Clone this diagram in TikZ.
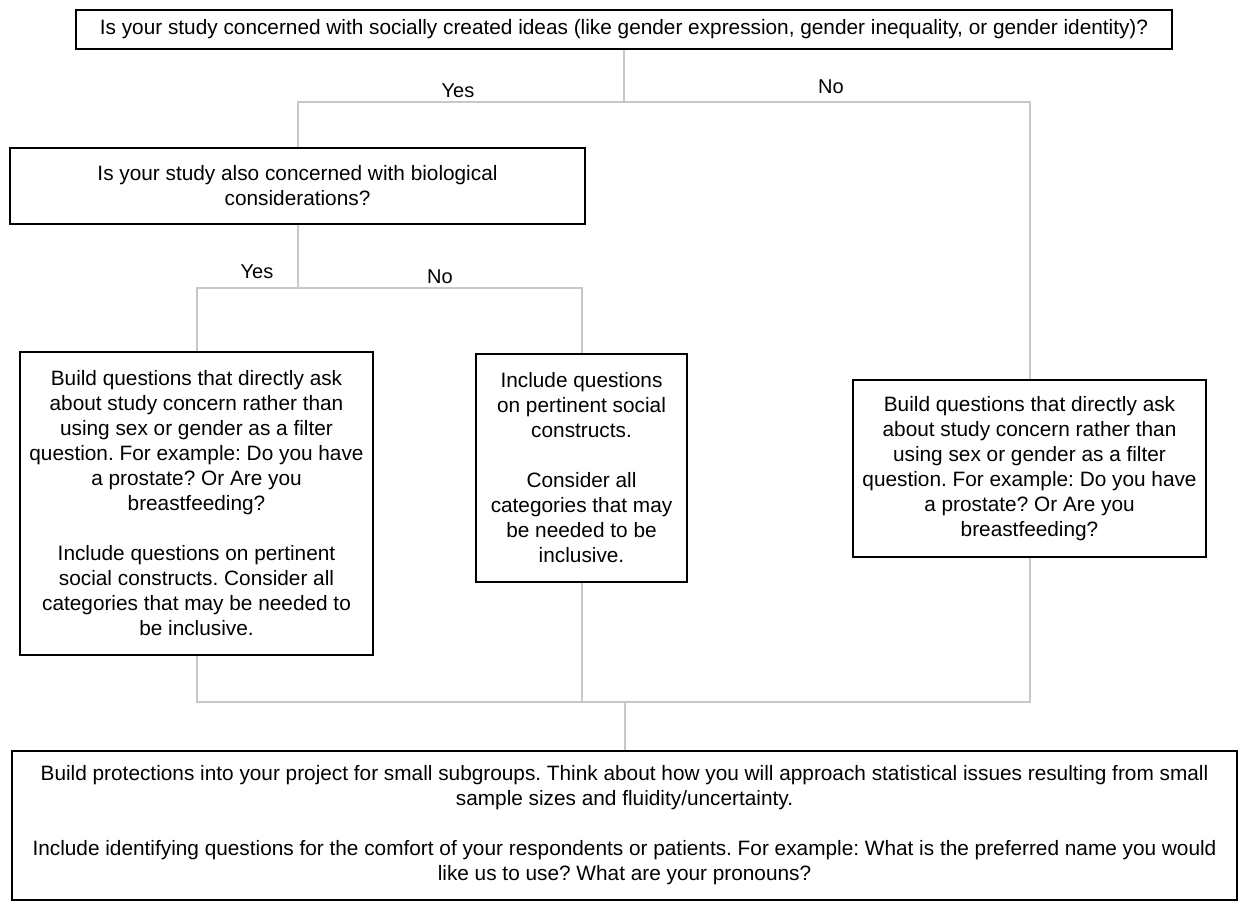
\documentclass[tikz,border=0pt]{standalone}
\usepackage{fontspec}
\setmainfont{Liberation Sans}
\frenchspacing
\definecolor{linegray}{HTML}{C8C8C8}
\newcommand{\boxfont}{\fontsize{20.8}{25}\selectfont}
\newcommand{\lblfont}{\fontsize{20}{23}\selectfont}
\tikzset{
  box/.style={draw=black, line width=2.2pt, align=center, inner sep=0pt, font=\boxfont},
  conn/.style={draw=linegray, line width=2pt},
  lbl/.style={font=\lblfont, anchor=base, inner sep=0pt}
}
\begin{document}
\begin{tikzpicture}[x=1pt,y=-1pt]
\useasboundingbox (0,0) rectangle (1238,902);
% junction levels
\coordinate (y1) at (0,102);
\coordinate (y2) at (0,288);
\coordinate (y3) at (0,702);
% nodes
\node[box, minimum width=1096pt, minimum height=39pt] (q1) at (624,29.5)
  {Is your study concerned with socially created ideas (like gender expression, gender inequality, or gender identity)?};
\node[box, minimum width=575pt, minimum height=76pt] (q2) at (297.5,186)
  {Is your study also concerned with biological\\considerations?};
\node[box, minimum width=353pt, minimum height=303pt] (a1) at (196.5,503.5)
  {Build questions that directly ask\\about study concern rather than\\using sex or gender as a filter\\question. For example: Do you have\\a prostate? Or Are you\\breastfeeding?\\[25pt]Include questions on pertinent\\social constructs. Consider all\\categories that may be needed to\\be inclusive.};
\node[box, minimum width=211pt, minimum height=228pt] (a2) at (581.5,468)
  {Include questions\\on pertinent social\\constructs.\\[25pt]Consider all\\categories that may\\be needed to be\\inclusive.};
\node[box, minimum width=353pt, minimum height=177pt] (a3) at (1029.5,468.5)
  {Build questions that directly ask\\about study concern rather than\\using sex or gender as a filter\\question. For example: Do you have\\a prostate? Or Are you\\breastfeeding?};
\node[box, minimum width=1225pt, minimum height=149pt] (fin) at (624.5,825.5)
  {Build protections into your project for small subgroups. Think about how you will approach statistical issues resulting from small\\sample sizes and fluidity/uncertainty.\\[25pt]Include identifying questions for the comfort of your respondents or patients. For example: What is the preferred name you would\\like us to use? What are your pronouns?};
% connectors
\draw[conn] (q1.south) -- (q1.south |- y1);
\draw[conn] (q2.north) -- (q2.north |- y1) -- (a3.north |- y1) -- (a3.north);
\draw[conn] (q2.south) -- (q2.south |- y2);
\draw[conn] (a1.north) -- (a1.north |- y2) -- (a2.north |- y2) -- (a2.north);
\draw[conn] (a1.south) -- (a1.south |- y3) -- (a3.south |- y3) -- (a3.south);
\draw[conn] (a2.south) -- (a2.south |- y3);
\draw[conn] (fin.north) -- (fin.north |- y3);
% labels
\node[lbl] (ly1) at (458,97) {Yes};
\node[lbl] (ln1) at (831,93) {No};
\node[lbl] (ly2) at (257,278) {Yes};
\node[lbl] (ln2) at (440,283) {No};
\end{tikzpicture}
\end{document}
